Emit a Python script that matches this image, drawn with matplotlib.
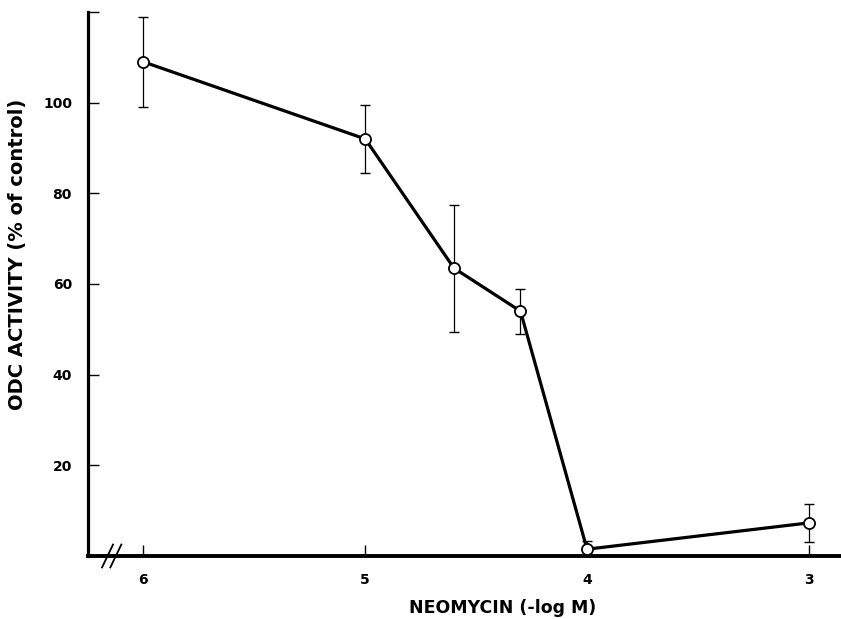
import matplotlib
matplotlib.use("Agg")
import matplotlib.pyplot as plt

# Data
neomycin = [6, 5, 4.6, 4.3, 4, 3]          # -log M
odc_activity = [109, 92, 63.5, 54, 1.5, 7.3]  # % of control
odc_err = [10, 7.5, 14, 5, 1.8, 4.2]

y_ticks = [20, 40, 60, 80, 100]
x_ticks = [6, 5, 4, 3]

plt.rcParams["font.family"] = ["DejaVu Sans"]
plt.rcParams["font.weight"] = "bold"

fig = plt.figure(figsize=(8.41, 6.19), dpi=100)
ax = fig.add_axes([0.1046, 0.1018, 0.8954, 0.8788])

# error bars first, thin, then the line and open circles on top
ax.errorbar(neomycin, odc_activity, yerr=odc_err, fmt="none",
            ecolor="black", elinewidth=0.9, capsize=3.5, capthick=1.0, zorder=2)
ax.plot(neomycin, odc_activity, color="black", lw=2.3, zorder=3,
        marker="o", ms=8, mfc="white", mec="black", mew=1.3)

ax.set_xlim(6.25, 2.855)
ax.set_ylim(0, 120)

ax.set_xticks(x_ticks)
ax.set_xticklabels([str(t) for t in x_ticks])
ax.set_yticks(y_ticks + [120])
ax.set_yticklabels([str(t) for t in y_ticks] + [""])

ax.tick_params(direction="in", length=8, width=1.0, labelsize=10)
ax.tick_params(axis="x", pad=12)
ax.tick_params(axis="y", pad=11.5)

for side in ("top", "right"):
    ax.spines[side].set_visible(False)
ax.spines["left"].set_linewidth(2.3)
ax.spines["bottom"].set_linewidth(2.8)

# axis break marks "//" near the origin
for xb in (0.026, 0.037):
    ax.plot([xb - 0.0073, xb + 0.0073], [-0.021, 0.021], transform=ax.transAxes,
            color="black", lw=1.3, clip_on=False, zorder=5)

ax.set_xlabel("NEOMYCIN (-log M)", fontsize=12.5, fontweight="bold")
ax.xaxis.set_label_coords(0.55, -0.079)
ax.set_ylabel("ODC ACTIVITY (% of control)", fontsize=14, fontweight="bold")
ax.yaxis.set_label_coords(-0.081, 0.555)

fig.savefig("out.png", dpi=100)
